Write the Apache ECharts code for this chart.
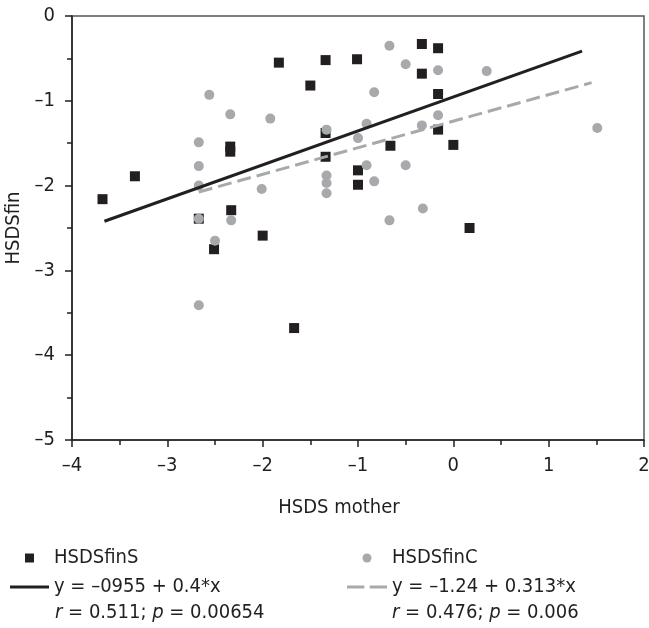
<!DOCTYPE html>
<html>
<head>
<meta charset="utf-8">
<script src="https://cdn.jsdelivr.net/npm/echarts@6/dist/echarts.min.js"></script>
<style>html,body{margin:0;padding:0;background:#fff}#c{width:649px;height:628px}</style>
</head>
<body>
<div id="c"></div>
<script>
// Data
var xTicks = [-4, -3, -2, -1, 0, 1, 2];
var yTicks = [0, -1, -2, -3, -4, -5];
var seriesNames = ['HSDSfinS', 'HSDSfinC'];
var fitLabels = ['y = \u20130955 + 0.4*x', 'y = \u20131.24 + 0.313*x'];
var statsS = ['0.511', '0.00654'];
var statsC = ['0.476', '0.006'];
var pointsS = [
  [-3.68,-2.16],[-3.34,-1.89],[-2.67,-2.39],[-2.51,-2.75],[-2.34,-1.54],[-2.34,-1.60],
  [-2.33,-2.29],[-2.00,-2.59],[-1.83,-0.55],[-1.67,-3.68],[-1.50,-0.82],[-1.34,-0.52],
  [-1.34,-1.38],[-1.34,-1.66],[-1.01,-0.51],[-1.00,-1.82],[-1.00,-1.99],[-0.66,-1.53],
  [-0.33,-0.33],[-0.33,-0.68],[-0.16,-0.38],[-0.16,-0.92],[-0.16,-1.34],[0.00,-1.52],
  [0.17,-2.50]
];
var pointsC = [
  [-2.67,-1.49],[-2.67,-1.77],[-2.67,-2.00],[-2.67,-2.39],[-2.67,-3.41],[-2.56,-0.93],
  [-2.50,-2.65],[-2.34,-1.16],[-2.33,-2.41],[-2.01,-2.04],[-1.92,-1.21],[-1.33,-1.34],
  [-1.33,-1.88],[-1.33,-1.97],[-1.33,-2.09],[-1.00,-1.44],[-0.91,-1.27],[-0.91,-1.76],
  [-0.83,-0.90],[-0.83,-1.95],[-0.67,-0.35],[-0.67,-2.41],[-0.50,-0.57],[-0.50,-1.76],
  [-0.33,-1.29],[-0.32,-2.27],[-0.16,-0.64],[-0.16,-1.17],[0.35,-0.65],[1.51,-1.32]
];
var fitLineS = [[-3.66,-2.42],[1.35,-0.415]];
var fitLineC = [[-2.67,-2.076],[1.45,-0.786]];

var FONT = "'Liberation Sans Narrow', 'Arial Narrow', 'DejaVu Sans Condensed', sans-serif";
var DARK = '#231f20', GREY = '#a7a9ac';
function fmt(v){ return String(v).replace('-', '\u2013'); }

var ICON_SQUARE = 'path://M0,0L10,0L10,10L0,10Z';
var ICON_SOLID = 'path://M0,0L40,0L40,3L0,3Z';
var ICON_DASH = 'path://M0,0L16,0L16,3L0,3ZM21,0L37,0L37,3L21,3Z';

var chart = echarts.init(document.getElementById('c'), null, {renderer:'canvas'});
chart.setOption({
  animation: false,
  textStyle: {fontFamily: FONT},
  grid: {left: 72, right: 5, top: 16, bottom: 188, containLabel: false, outerBoundsMode: 'none',
         show: true, borderColor: '#555', borderWidth: 1.5},
  xAxis: {
    type: 'value', min: xTicks[0], max: xTicks[xTicks.length-1], interval: 1,
    name: 'HSDS mother', nameLocation: 'middle', nameGap: 58,
    nameTextStyle: {fontSize: 20, color: DARK, fontFamily: FONT, padding: [0, 38, 0, 0]},
    axisLine: {show: true, onZero: false, lineStyle: {color: DARK, width: 1.5}},
    axisTick: {show: true, inside: false, length: 7, lineStyle: {color: DARK, width: 1.5}},
    minorTick: {show: true, splitNumber: 2, length: 5, lineStyle: {color: DARK, width: 1.5}},
    splitLine: {show: false},
    axisLabel: {fontSize: 20, color: DARK, margin: 16, fontFamily: FONT, formatter: fmt}
  },
  yAxis: {
    type: 'value', min: yTicks[yTicks.length-1], max: yTicks[0], interval: 1,
    name: 'HSDSfin', nameLocation: 'middle', nameGap: 47,
    nameTextStyle: {fontSize: 20, color: DARK, fontFamily: FONT},
    axisLine: {show: true, onZero: false, lineStyle: {color: DARK, width: 1.5}},
    axisTick: {show: true, inside: false, length: 7, lineStyle: {color: DARK, width: 1.5}},
    minorTick: {show: true, splitNumber: 2, length: 5, lineStyle: {color: DARK, width: 1.5}},
    splitLine: {show: false},
    axisLabel: {fontSize: 20, color: DARK, margin: 17, fontFamily: FONT, formatter: fmt}
  },
  legend: [
    {
      data: [
        {name: seriesNames[0], icon: ICON_SQUARE},
        {name: fitLabels[0], icon: ICON_SOLID}
      ],
      orient: 'vertical', left: 10, top: 548, padding: 0, symbolKeepAspect: true,
      itemWidth: 39, itemHeight: 9, itemGap: 9, selectedMode: false,
      textStyle: {fontSize: 20, color: DARK, fontFamily: FONT, lineHeight: 20}
    },
    {
      data: [
        {name: seriesNames[1], icon: 'circle'},
        {name: fitLabels[1], icon: ICON_DASH}
      ],
      orient: 'vertical', left: 347, top: 548, padding: 0, symbolKeepAspect: true,
      itemWidth: 40, itemHeight: 9, itemGap: 9, selectedMode: false,
      textStyle: {fontSize: 20, color: DARK, fontFamily: FONT, lineHeight: 20}
    }
  ],
  graphic: [
    {type: 'text', left: 55, top: 603, style: {
      text: '{i|r} = ' + statsS[0] + '; {i|p} = ' + statsS[1],
      font: '20px ' + FONT, fill: DARK,
      rich: {i: {fontStyle: 'italic', fontSize: 20, fontFamily: FONT, fill: DARK}}
    }},
    {type: 'text', left: 392, top: 603, style: {
      text: '{i|r} = ' + statsC[0] + '; {i|p} = ' + statsC[1],
      font: '20px ' + FONT, fill: DARK,
      rich: {i: {fontStyle: 'italic', fontSize: 20, fontFamily: FONT, fill: DARK}}
    }}
  ],
  series: [
    {name: seriesNames[0], type: 'scatter', symbol: 'rect', symbolSize: 10, data: pointsS,
     itemStyle: {color: DARK, opacity: 1}, z: 2},
    {name: seriesNames[1], type: 'scatter', symbol: 'circle', symbolSize: 10, data: pointsC,
     itemStyle: {color: GREY, opacity: 1}, z: 3},
    {name: fitLabels[0], type: 'line', data: fitLineS, symbol: 'none', showSymbol: false,
     lineStyle: {color: DARK, width: 3}, itemStyle: {color: DARK}, z: 4},
    {name: fitLabels[1], type: 'line', data: fitLineC, symbol: 'none', showSymbol: false,
     lineStyle: {color: GREY, width: 3, type: [14, 6]}, itemStyle: {color: GREY}, z: 4}
  ]
});
</script>
</body>
</html>
